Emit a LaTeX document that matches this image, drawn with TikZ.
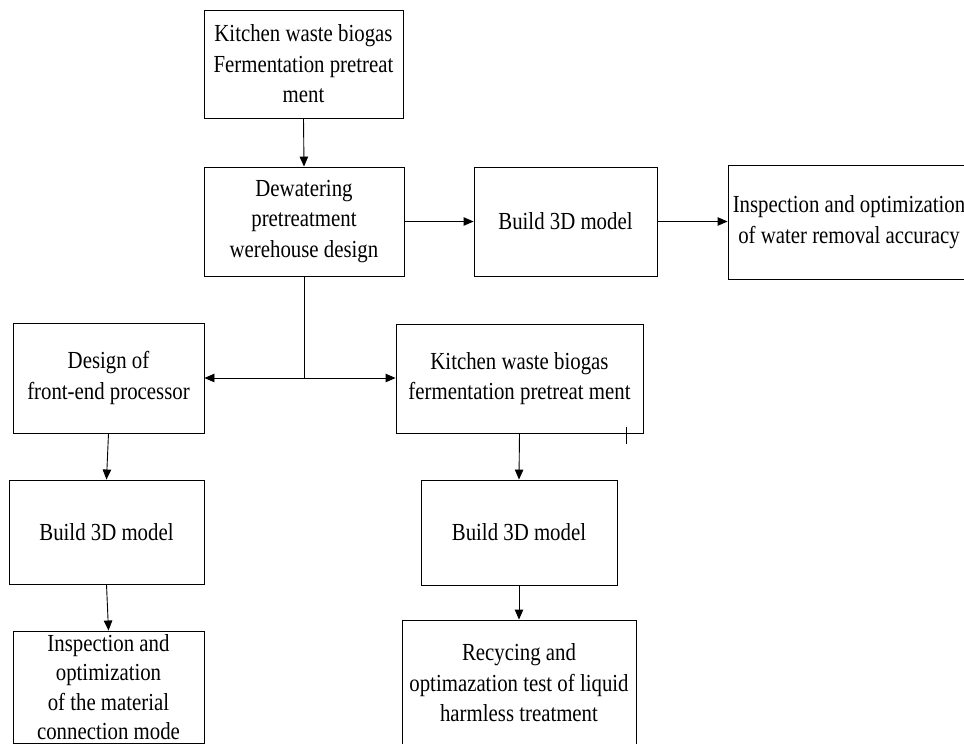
\documentclass[tikz,border=0pt]{standalone}
\usepackage{fontspec}
\setmainfont{Liberation Serif}[FakeStretch=0.85]
\usepackage{tikz}
\usetikzlibrary{
    arrows.meta
}

\begin{document}
\begin{tikzpicture}[x=1pt,y=-1pt,>={Triangle[length=10pt,width=8.5pt]},line width=0.9pt]
    \tikzstyle{box}=[draw, shape=rectangle, align=center, inner sep=0pt, font=\fontsize{24.5}{30.5}\selectfont]
    \useasboundingbox (0,0) rectangle (964,744);

	\node [box, minimum width=199, minimum height=108] (kwb) at (303.5, 64) {Kitchen waste biogas\\ Fermentation pretreat\\ ment};

	\node [box, minimum width=200, minimum height=109] (dew) at (304, 221.5) {Dewatering\\ pretreatment\\ werehouse design};

	\node [box, minimum width=183, minimum height=109] (mod1) at (565.5, 221.5) {Build 3D model};

	\node [box, minimum width=242, minimum height=114] (insp1) at (849, 222) {Inspection and optimization\\ of water removal accuracy};

	\node [box, minimum width=191, minimum height=110] (front) at (108.5, 378) {Design of\\ front-end processor};

	\node [box, minimum width=247, minimum height=109] (kwb2) at (519.5, 378.5) {Kitchen waste biogas\\ fermentation pretreat ment};

	\node [box, minimum width=195, minimum height=104] (mod2) at (106.5, 532) {Build 3D model};

	\node [box, font=\fontsize{24.5}{29.5}\selectfont, minimum width=191, minimum height=112] (insp2) at (108.5, 687) {Inspection and\\ optimization\\ of the material\\ connection mode};

	\node [box, minimum width=196, minimum height=105] (mod3) at (519, 532.5) {Build 3D model};

	\node [box, minimum width=234, minimum height=126] (recy) at (519, 683) {Recycing and\\ optimazation test of liquid\\ harmless treatment};

	\coordinate (split) at (dew.south |- front.east);

	\draw [->] (kwb.south) -- (dew.north);
	\draw [->] (dew.east) -- (mod1.west);
	\draw [->] (mod1.east) -- (mod1.east -| insp1.west);

	\draw (dew.south) -- (split);
	\draw [->] (split) -- (front.east);
	\draw [->] (split) -- (split -| kwb2.west);

	\draw [->] (front.south) -- (mod2.north);
	\draw [->] (mod2.south) -- (insp2.north);
	\draw [->] (kwb2.south) -- (mod3.north);
	\draw [->] (mod3.south) -- (recy.north);

	\draw (626, 427) -- (626, 444);
\end{tikzpicture}
\end{document}
